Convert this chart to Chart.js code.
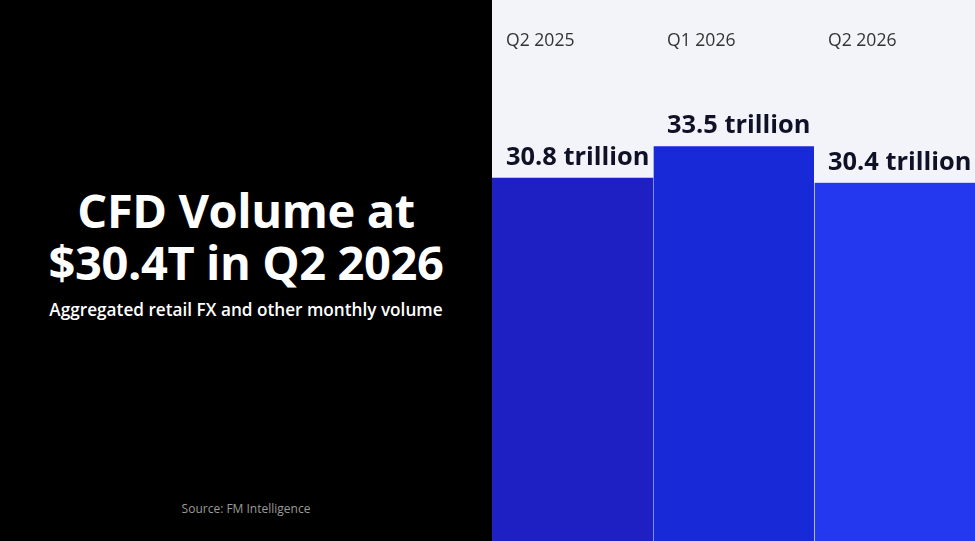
<!DOCTYPE html>
<html>
<head>
<meta charset="utf-8">
<script src="https://cdn.jsdelivr.net/npm/chart.js@4/dist/chart.umd.min.js"></script>
<style>
  html, body { margin: 0; padding: 0; width: 975px; height: 541px; overflow: hidden; background: #000; }
  #left { position: absolute; left: 0; top: 0; width: 492px; height: 541px; background: #000; color: #fff; font-family: "Open Sans", sans-serif; }
  #title { position: absolute; left: 0; width: 492px; top: 184px; text-align: center; font-weight: 700; font-size: 47px; line-height: 52px; letter-spacing: -0.4px; }
  #subtitle { position: absolute; left: 0; width: 492px; top: 298px; text-align: center; font-weight: 600; font-size: 17.2px; }
  #source { position: absolute; left: 0; width: 492px; top: 500px; text-align: center; font-size: 12px; color: #9a9a9a; }
  #right { position: absolute; left: 492px; top: 0; width: 483px; height: 541px; background: #f3f4f9; }
</style>
</head>
<body>
<div id="left">
  <div id="title">CFD Volume at<br>$30.4T in Q2 2026</div>
  <div id="subtitle">Aggregated retail FX and other monthly volume</div>
  <div id="source">Source: FM Intelligence</div>
</div>
<div id="right"><canvas id="c" width="483" height="541"></canvas></div>
<script>
const categories = ["Q2 2025", "Q1 2026", "Q2 2026"];
const volumes = [30.8, 33.5, 30.4];
const valueLabels = ["30.8 trillion", "33.5 trillion", "30.4 trillion"];
const barColors = ["#1f20c4", "#182ad8", "#2438ef"];

const labelPlugin = {
  id: 'barLabels',
  afterDatasetsDraw(chart) {
    const ctx = chart.ctx;
    const meta = chart.getDatasetMeta(0);
    ctx.save();
    meta.data.forEach((bar, i) => {
      const left = bar.x - bar.width / 2;
      ctx.textAlign = 'left';
      ctx.textBaseline = 'alphabetic';
      ctx.fillStyle = '#333333';
      ctx.font = '17.6px "Open Sans", sans-serif';
      ctx.fillText(categories[i], left + 14, 46);
      ctx.fillStyle = '#0f1126';
      ctx.font = 'bold 25.4px "Open Sans", sans-serif';
      ctx.fillText(valueLabels[i], left + 14, bar.y - 13);
    });
    ctx.restore();
  }
};

new Chart(document.getElementById('c'), {
  type: 'bar',
  data: {
    labels: categories,
    datasets: [{
      data: volumes,
      backgroundColor: barColors,
      borderColor: 'rgba(255,255,255,0.08)',
      borderWidth: [{left:0,right:0,top:0,bottom:0},{left:1,right:0,top:0,bottom:0},{left:1,right:0,top:0,bottom:0}],
      borderSkipped: false,
      categoryPercentage: 1,
      barPercentage: 1
    }]
  },
  options: {
    responsive: false,
    animation: false,
    layout: { padding: 0 },
    plugins: { legend: { display: false }, tooltip: { enabled: false } },
    scales: {
      x: { display: false },
      y: { display: false, min: 0, max: 45.9 }
    }
  },
  plugins: [labelPlugin]
});
</script>
</body>
</html>
